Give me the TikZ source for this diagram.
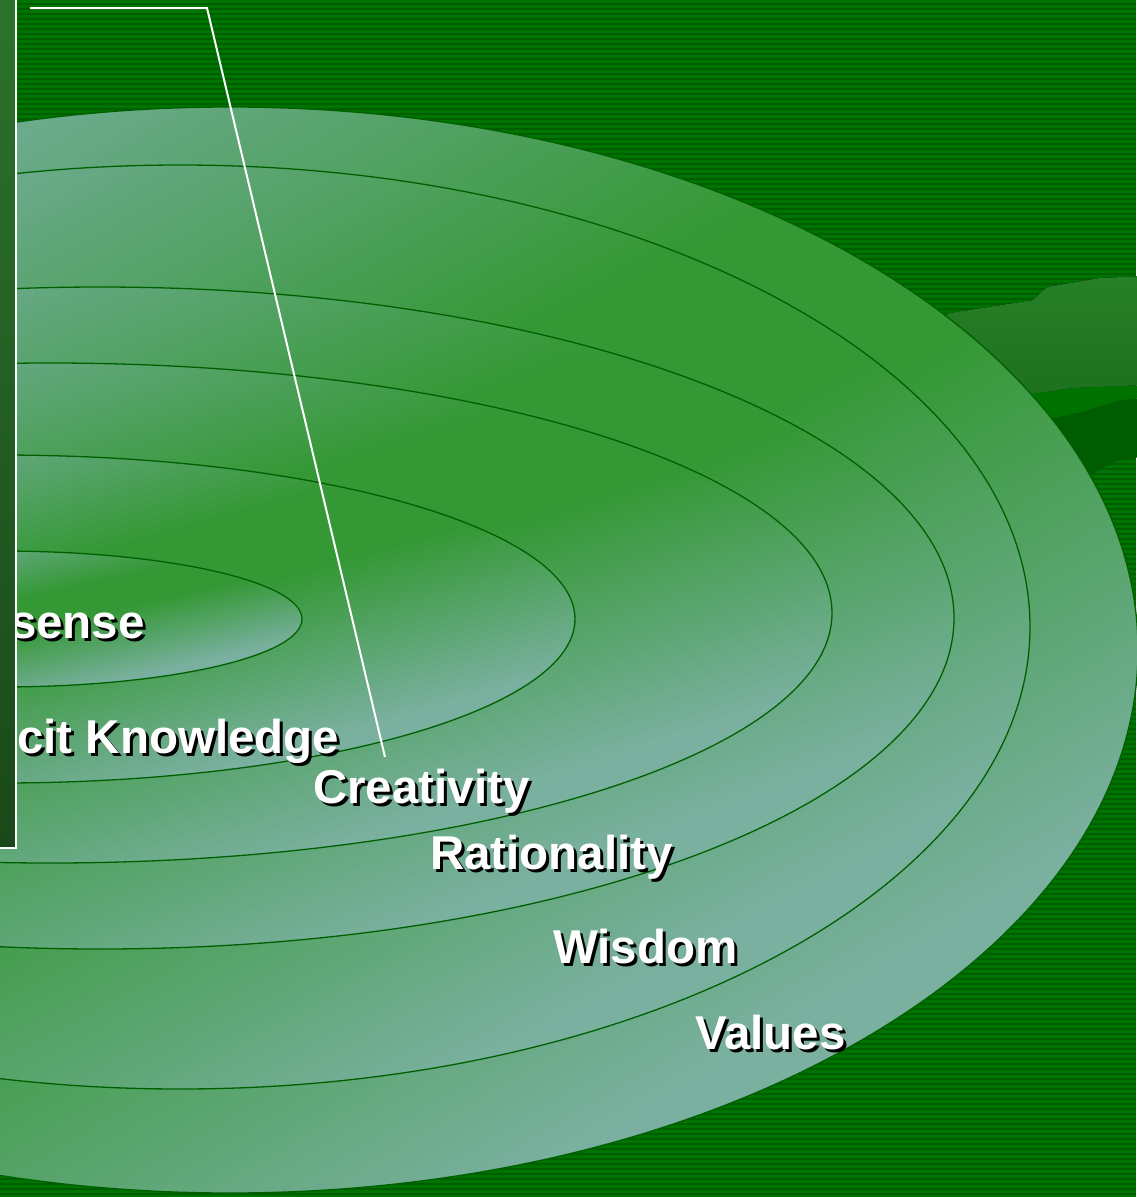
\documentclass[tikz,border=0pt]{standalone}
\usepackage{fontspec}
\setmainfont{Liberation Sans}
\definecolor{bgdark}{RGB}{0,94,0}
\definecolor{bglight}{RGB}{0,116,0}
\definecolor{hillA}{RGB}{38,128,38}
\definecolor{hillAb}{RGB}{30,112,30}
\definecolor{hillB}{RGB}{0,114,0}
\definecolor{hillC}{RGB}{0,92,0}
\definecolor{ringgreen}{RGB}{52,152,52}
\definecolor{lightLR}{RGB}{122,176,160}
\definecolor{lightUL}{RGB}{114,172,150}
\definecolor{ringline}{RGB}{0,96,0}
\definecolor{boxtop}{RGB}{44,116,44}
\definecolor{boxbot}{RGB}{26,72,26}
\pgfdeclareverticalshading{ringshade}{100bp}{color(0bp)=(lightLR); color(27bp)=(lightLR); color(46bp)=(ringgreen); color(54bp)=(ringgreen); color(73bp)=(lightUL); color(100bp)=(lightUL)}
\newcommand{\shadowed}[1]{\makebox[0pt][l]{\hspace{3pt}\raisebox{-3pt}{\color{black}#1}}#1}
% #1 cx, #2 cy, #3 x radius, #4 y radius  (pixels)
\newcommand{\ringfill}[4]{%
  \begin{scope}[transform canvas={shift={(#1,#2)}, xscale=#3/100, yscale=#4/100, rotate=45}]
    \shade[shading=ringshade] (0pt,0pt) circle (100pt);
  \end{scope}
  \draw[ringedge] (#1,#2) ellipse [x radius=#3pt, y radius=#4pt];
}
\tikzset{
  ringedge/.style={draw=ringline, line width=1.3pt},
  callout/.style={draw=white, line width=2pt, line join=miter},
  lbl/.style={text=white, font=\bfseries\fontsize{47.5}{57}\selectfont, inner sep=0pt},
  calloutbox/.style={top color=boxtop, bottom color=boxbot, draw=white, line width=2pt}
}
\begin{document}
\begin{tikzpicture}[x=1pt,y=-1pt]
\useasboundingbox (0,0) rectangle (1136,1197);
% striped background
\fill[bgdark] (0,0) rectangle (1136,1197);
\foreach \i in {0,...,239} { \fill[bglight] (0,{5*\i}) rectangle (1136,{5*\i+2.5}); }
% hills behind the rings on the right
\fill[top color=hillA, bottom color=hillAb] (900,330) -- (950,313) -- (1033,300) -- (1047,287) -- (1100,278) -- (1146,276) -- (1146,385) -- (1073,388) -- (1033,394) -- (1000,400) -- (900,400) -- cycle;
\fill[hillB] (1000,396) -- (1033,394) -- (1073,388) -- (1146,385) -- (1146,397) -- (1116,401) -- (1086,411) -- (1053,418) -- (1000,422) -- cycle;
\fill[hillC] (1000,422) -- (1053,418) -- (1086,411) -- (1116,401) -- (1146,397) -- (1146,456) -- (1116,461) -- (1096,472) -- (1000,520) -- cycle;
% nested rings, outermost first
\ringfill{230}{650}{908}{543}
\ringfill{180}{627}{850}{462}
\ringfill{100}{618}{854}{331}
\ringfill{50}{613}{782}{250}
\ringfill{0}{619}{575}{164}
\ringfill{0}{619}{302}{68}
% labels (white with dark drop shadow)
\node[lbl, anchor=base east] (sense) at (145,638) {\shadowed{sense}};
\node[lbl, anchor=base west] (tacit) at (17,753) {\shadowed{cit Knowledge}};
\node[lbl, anchor=base west] (creat) at (313,803) {\shadowed{Creativity}};
\node[lbl, anchor=base west] (ratio) at (430,869) {\shadowed{Rationality}};
\node[lbl, anchor=base west] (wisd) at (553,963) {\shadowed{Wisdom}};
\node[lbl, anchor=base west] (val) at (695,1049) {\shadowed{Values}};
% callout box on the left edge
\draw[calloutbox] (-30,-30) rectangle (16,848);
% callout line
\coordinate (cstart) at (30,8);
\coordinate (cbend) at (207,8);
\coordinate (cend) at (385,757);
\draw[callout] (cstart) -- (cbend) -- (cend);
\end{tikzpicture}
\end{document}
